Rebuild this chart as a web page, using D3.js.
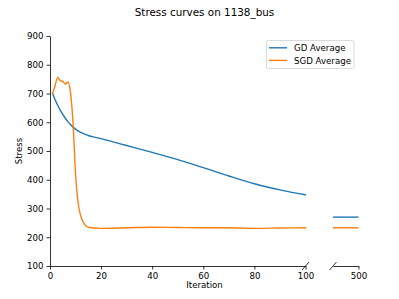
<!DOCTYPE html>
<html>
<head>
<meta charset="utf-8">
<script src="https://cdn.jsdelivr.net/npm/d3@7"></script>
<style>
  body { margin: 0; background: #fff; }
  svg { display: block; font-family: "DejaVu Sans", sans-serif; }
</style>
</head>
<body>
<svg id="chart"></svg>
<script>
// chart data
var gdIter  = [1, 2, 3, 4, 5, 6, 7, 8, 9, 10, 11, 12, 13, 14, 15, 17, 20, 25, 30, 40, 50, 60, 70, 80, 90, 100];
var gdAvg   = [700, 678, 659, 642, 627, 614, 602, 592, 583, 576, 570, 565, 561, 557, 554, 549, 543, 531, 519, 495, 470, 442, 413, 386, 365, 348];
var sgdIter = [1, 2, 3, 4, 5, 6, 7, 8, 9, 10, 11, 12, 13, 14, 15, 16, 18, 20, 30, 40, 50, 60, 70, 80, 90, 100];
var sgdAvg  = [700, 728, 756, 745, 742, 733, 740, 705, 600, 420, 320, 275, 252, 240, 235, 233, 232, 231, 233, 235, 234, 233, 233, 231, 232, 233];

// tail of the run, shown in the second panel
var tailIter = [490, 500];
var gdTail   = [270, 270];
var sgdTail  = [233, 233];

var seriesNames  = ["GD Average", "SGD Average"];
var seriesColors = ["#1f77b4", "#ff7f0e"];
var yTicks  = [100, 200, 300, 400, 500, 600, 700, 800, 900];
var xTicksL = [0, 20, 40, 60, 80, 100];
var xTicksR = [500];

//canvas info
var width = 399;
var height = 299;
var top_ = 36, bottom = 266;

var svg = d3.select("#chart").attr("width", width).attr("height", height);

var y  = d3.scaleLinear().domain([100, 900]).range([bottom, top_]);
var xL = d3.scaleLinear().domain([0, 100]).range([50, 305.5]);
var xR = d3.scaleLinear().domain([490, 500]).range([333, 358.5]);

function zip(xs, ys) {
  return xs.map(function(v, i) { return {x: v, y: ys[i]}; });
}

function style_axis(g) {
  g.selectAll(".domain").attr("stroke", "#000").attr("stroke-width", 0.8);
  g.selectAll(".tick line").attr("stroke", "#000").attr("stroke-width", 0.8);
  g.selectAll(".tick text").attr("fill", "#000").style("font-size", "8.65px")
    .style("font-family", "DejaVu Sans");
}

// axes
svg.append("g")
  .attr("transform", "translate(50,0)")
  .call(d3.axisLeft(y).tickValues(yTicks).tickSize(3.5).tickSizeOuter(0).tickPadding(3))
  .call(style_axis);

svg.append("g")
  .attr("transform", "translate(0," + bottom + ")")
  .call(d3.axisBottom(xL).tickValues(xTicksL).tickSize(3.5).tickSizeOuter(0).tickPadding(3))
  .call(style_axis);

svg.append("g")
  .attr("transform", "translate(0," + bottom + ")")
  .call(d3.axisBottom(xR).tickValues(xTicksR).tickSize(3.5).tickSizeOuter(0).tickPadding(3))
  .call(style_axis);

// break marks
[xL(100), xR(490)].forEach(function(cx) {
  svg.append("line")
    .attr("x1", cx - 3.5).attr("y1", bottom + 4)
    .attr("x2", cx + 3.5).attr("y2", bottom - 4)
    .attr("stroke", "#000").attr("stroke-width", 0.8);
});

// lines
var lineL = d3.line().curve(d3.curveMonotoneX)
  .x(function(d) { return xL(d.x); }).y(function(d) { return y(d.y); });
var lineR = d3.line().x(function(d) { return xR(d.x); }).y(function(d) { return y(d.y); });

var leftSets  = [zip(gdIter, gdAvg), zip(sgdIter, sgdAvg)];
var rightSets = [zip(tailIter, gdTail), zip(tailIter, sgdTail)];

leftSets.forEach(function(d, i) {
  svg.append("path").datum(d).attr("d", lineL)
    .attr("fill", "none").attr("stroke", seriesColors[i]).attr("stroke-width", 1.4)
    .attr("stroke-linejoin", "round").attr("stroke-linecap", "square");
});
rightSets.forEach(function(d, i) {
  svg.append("path").datum(d).attr("d", lineR)
    .attr("fill", "none").attr("stroke", seriesColors[i]).attr("stroke-width", 1.4);
});

// labels
svg.append("text").attr("x", 204.5).attr("y", 16).attr("text-anchor", "middle")
  .style("font-size", "10.4px").text("Stress curves on 1138_bus");

svg.append("text").attr("x", 204.5).attr("y", 287.5).attr("text-anchor", "middle")
  .style("font-size", "8.65px").text("Iteration");

svg.append("text").attr("transform", "translate(22,151) rotate(-90)")
  .attr("text-anchor", "middle").style("font-size", "8.65px").text("Stress");

// legend
var lg = svg.append("g").attr("transform", "translate(266.5,40.5)");
lg.append("rect").attr("width", 87.5).attr("height", 28).attr("rx", 2)
  .attr("fill", "#fff").attr("fill-opacity", 0.8).attr("stroke", "#d0d0d0").attr("stroke-width", 0.8);
seriesNames.forEach(function(name, i) {
  var yy = 7.3 + i * 12.6;
  lg.append("line").attr("x1", 2.5).attr("x2", 20.5).attr("y1", yy).attr("y2", yy)
    .attr("stroke", seriesColors[i]).attr("stroke-width", 1.4);
  lg.append("text").attr("x", 27.5).attr("y", yy + 3.1)
    .style("font-size", "8.65px").text(name);
});
</script>
</body>
</html>
